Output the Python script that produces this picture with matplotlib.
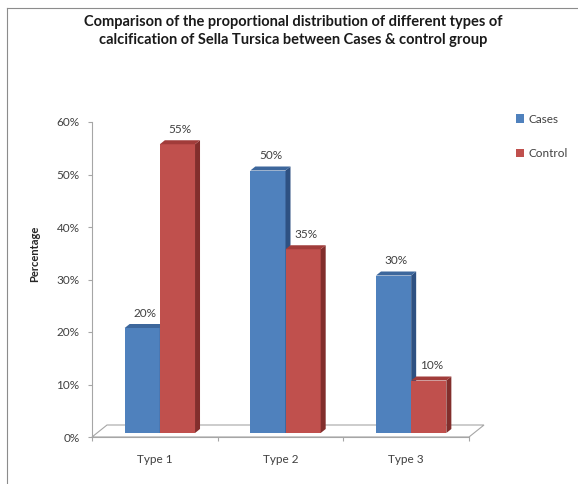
import matplotlib
matplotlib.use("Agg")
import matplotlib.pyplot as plt
from matplotlib.patches import Polygon, Patch
from matplotlib.lines import Line2D

categories = ["Type 1", "Type 2", "Type 3"]
cases = [20, 50, 30]
control = [55, 35, 10]
series_names = ["Cases", "Control"]

plt.rcParams["font.family"] = ["Lato", "DejaVu Sans"]

W, H = 578, 484
fig = plt.figure(figsize=(W / 100, H / 100), dpi=100)
ax = fig.add_axes([92 / W, (H - 437) / H, (469 - 92) / W, (437 - 122) / H])
ax.set_xlim(0, 3)
ax.set_ylim(0, 60)

# pseudo 3-D geometry, data units (x: category, y: percent)
px_x = (469 - 92) / 3.0
px_y = (437 - 122) / 60.0
floor_dx, floor_dy = 15 / px_x, 12 / px_y
bar_dx, bar_dy = floor_dx / 3, floor_dy / 3
width = 0.28

colors = {
    "Cases": ("#4F81BD", "#2E5182", "#3D679C"),
    "Control": ("#C0504D", "#822E2C", "#A13C3A"),
}

# floor
floor = Polygon([(0, 0), (3, 0), (3 + floor_dx, floor_dy), (floor_dx, floor_dy)],
                closed=True, facecolor="white", edgecolor="#A6A6A6", lw=0.8,
                clip_on=False, zorder=1)
ax.add_patch(floor)


def draw_bar(x0, val, name):
    front, side, top = colors[name]
    x = x0 + bar_dx
    y0 = bar_dy
    ax.bar(x, val, width=width, bottom=y0, align="edge", color=front,
           linewidth=0, zorder=3, clip_on=False)
    ax.add_patch(Polygon([(x + width, y0), (x + width + bar_dx, y0 + bar_dy),
                          (x + width + bar_dx, y0 + val + bar_dy), (x + width, y0 + val)],
                         closed=True, facecolor=side, lw=0, zorder=3, clip_on=False))
    ax.add_patch(Polygon([(x, y0 + val), (x + width, y0 + val),
                          (x + width + bar_dx, y0 + val + bar_dy), (x + bar_dx, y0 + val + bar_dy)],
                         closed=True, facecolor=top, lw=0, zorder=3, clip_on=False))
    ax.text(x + width / 2 + bar_dx / 2, y0 + val + bar_dy + 1.0, f"{val}%",
            ha="center", va="bottom", fontsize=8.5, color="#404040", zorder=4)


for i in range(len(categories)):
    c = i + 0.5
    draw_bar(c - width, cases[i], "Cases")
    draw_bar(c, control[i], "Control")

for s in ["top", "right"]:
    ax.spines[s].set_visible(False)
for s in ["left", "bottom"]:
    ax.spines[s].set_color("#A6A6A6")
    ax.spines[s].set_linewidth(0.8)

ax.set_yticks(range(0, 61, 10))
ax.set_yticklabels([f"{v}%" for v in range(0, 61, 10)])
ax.set_xticks([0, 1, 2, 3])
ax.set_xticklabels([])
ax.set_xticks([0.5, 1.5, 2.5], minor=True)
ax.set_xticklabels(categories, minor=True)
ax.tick_params(axis="y", direction="out", length=3, width=0.8, color="#A6A6A6",
               pad=6, labelsize=8.5, labelcolor="#404040")
ax.tick_params(axis="x", which="major", direction="out", length=3, width=0.8,
               color="#A6A6A6")
ax.tick_params(axis="x", which="minor", length=0, pad=12, labelsize=8.5,
               labelcolor="#404040")

fig.text(35 / W, 1 - 254 / H, "Percentage", rotation=90, ha="center", va="center",
         fontsize=8, fontweight="bold", color="#262626")

fig.text(293 / W, 1 - 22 / H, "Comparison of the proportional distribution of different types of",
         ha="center", va="center", fontsize=10.5, fontweight="bold", color="#1a1a1a")
fig.text(293 / W, 1 - 40 / H, "calcification of Sella Tursica between Cases & control group",
         ha="center", va="center", fontsize=10.5, fontweight="bold", color="#1a1a1a")

handles = [Patch(facecolor=colors[n][0], edgecolor="none") for n in series_names]
leg = fig.legend(handles, series_names, loc="upper left",
                 bbox_to_anchor=(505 / W, 1 - 103 / H), frameon=False,
                 handlelength=0.7, handleheight=0.7, handletextpad=0.4,
                 labelspacing=2.0, fontsize=8.5)
for t in leg.get_texts():
    t.set_color("#404040")

# chart frame (only top and left edges visible in the crop)
fig.add_artist(Line2D([7 / W, 1], [1 - 8 / H, 1 - 8 / H], color="#8C8C8C", lw=0.8))
fig.add_artist(Line2D([7 / W, 7 / W], [0, 1 - 8 / H], color="#8C8C8C", lw=0.8))

fig.savefig("out.png", dpi=100)
